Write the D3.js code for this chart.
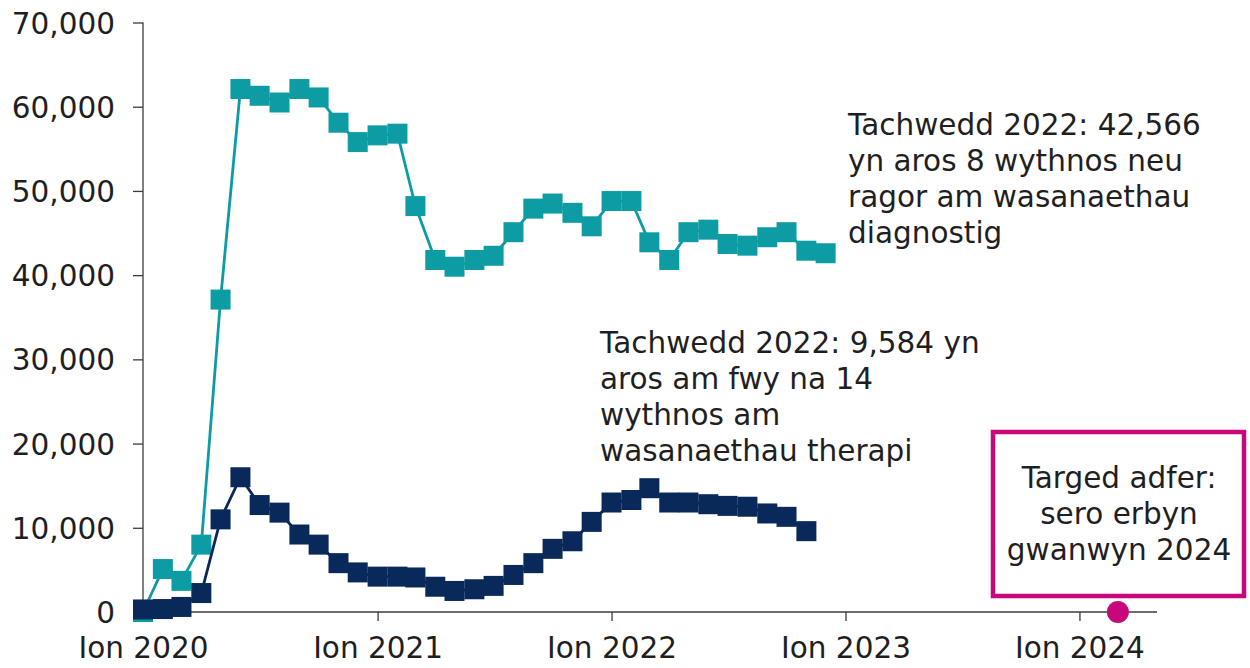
<!DOCTYPE html>
<html lang="cy">
  <head>
    <meta charset="utf-8" />
    <title>Amseroedd aros diagnostig a therapi</title>
    <style>
      body {
        margin: 0;
        background: #ffffff;
      }
      svg text {
        font-family: "DejaVu Sans", sans-serif;
        font-size: 29.5px;
        fill: #1f1f1f;
      }
    </style>
    <script src="https://d3js.org/d3.v7.min.js"></script>
  </head>
  <body>
    <div id="main"></div>
    <script>
      // months Jan 2020 - Dec 2022
      var months = [
        "2020-01", "2020-02", "2020-03", "2020-04", "2020-05", "2020-06",
        "2020-07", "2020-08", "2020-09", "2020-10", "2020-11", "2020-12",
        "2021-01", "2021-02", "2021-03", "2021-04", "2021-05", "2021-06",
        "2021-07", "2021-08", "2021-09", "2021-10", "2021-11", "2021-12",
        "2022-01", "2022-02", "2022-03", "2022-04", "2022-05", "2022-06",
        "2022-07", "2022-08", "2022-09", "2022-10", "2022-11", "2022-12",
      ];

      // waiting 8+ weeks for diagnostic services
      var diagnostig = [
        0, 5100, 3700, 8000, 37100, 62100, 61300, 60500, 62100, 61100, 58100,
        55800, 56600, 56800, 48200, 41800, 41000, 41800, 42300, 45100, 47900,
        48500, 47400, 45800, 48800, 48800, 43900, 41800, 45100, 45400, 43700,
        43500, 44500, 45100, 42900, 42600,
      ];

      // waiting 14+ weeks for therapy services
      var therapi = [
        300, 350, 600, 2250, 11000, 16000, 12700, 11800, 9200, 8000, 5800,
        4700, 4200, 4200, 4100, 3000, 2500, 2700, 3100, 4400, 5800, 7500,
        8400, 10700, 13000, 13300, 14700, 13000, 13000, 12800, 12600, 12500,
        11700, 11300, 9600,
      ];

      var yTicks = [0, 10000, 20000, 30000, 40000, 50000, 60000, 70000];
      var xTicks = ["2020-01", "2021-01", "2022-01", "2023-01", "2024-01"];
      var xTickLabels = ["Ion 2020", "Ion 2021", "Ion 2022", "Ion 2023", "Ion 2024"];

      var labelDiagnostig = [
        "Tachwedd 2022: 42,566",
        "yn aros 8 wythnos neu",
        "ragor am wasanaethau",
        "diagnostig",
      ];
      var labelTherapi = [
        "Tachwedd 2022: 9,584 yn",
        "aros am fwy na 14",
        "wythnos am",
        "wasanaethau therapi",
      ];
      var targetText = ["Targed adfer:", "sero erbyn", "gwanwyn 2024"];
      var targetMonth = "2024-03";

      var width = 1250,
        height = 668;
      var teal = "#0e9ca4",
        navy = "#08295a",
        pink = "#c8077b";

      var parse = d3.timeParse("%Y-%m");

      var svg = d3
        .select("#main")
        .append("svg")
        .attr("width", width)
        .attr("height", height);

      var x = d3
        .scaleTime()
        .domain([parse("2020-01"), parse("2024-05")])
        .range([143, 1157]);
      var y = d3.scaleLinear().domain([0, 70000]).range([612, 22.5]);

      // y axis
      var yAxis = d3
        .axisLeft(y)
        .tickValues(yTicks)
        .tickSize(10)
        .tickPadding(18)
        .tickFormat(d3.format(","));
      var gy = svg
        .append("g")
        .attr("transform", "translate(143,0)")
        .call(yAxis);
      gy.select(".domain").attr("d", "M0," + y(70000) + "V" + y(0));

      // x axis
      var xAxis = d3
        .axisBottom(x)
        .tickValues(xTicks.map(parse))
        .tickSize(9)
        .tickPadding(14)
        .tickFormat(function (d, i) {
          return xTickLabels[i];
        });
      var gx = svg
        .append("g")
        .attr("transform", "translate(0," + y(0) + ")")
        .call(xAxis);
      gx.select(".domain").attr("d", "M133,0H1157");
      gx.selectAll(".tick")
        .filter(function (d, i) {
          return i === 0;
        })
        .select("line")
        .remove();

      svg.selectAll(".domain, .tick line")
        .attr("stroke", "#3c3c3c")
        .attr("stroke-width", 1.3);
      svg.selectAll(".tick text")
        .attr("fill", "#1f1f1f")
        .style("font-size", "29.5px")
        .style("font-family", "DejaVu Sans, sans-serif");
      gy.selectAll(".tick text").attr("dy", "0.36em");
      gx.selectAll(".tick text").attr("dy", "0.78em");

      // series
      function drawSeries(values, colour) {
        var pts = values.map(function (v, i) {
          return [parse(months[i]), v];
        });
        var line = d3
          .line()
          .x(function (d) {
            return x(d[0]);
          })
          .y(function (d) {
            return y(d[1]);
          });
        svg
          .append("path")
          .datum(pts)
          .attr("d", line)
          .attr("fill", "none")
          .attr("stroke", colour)
          .attr("stroke-width", 2.8);
        svg
          .append("g")
          .selectAll("rect")
          .data(pts)
          .enter()
          .append("rect")
          .attr("x", function (d) {
            return x(d[0]) - 10;
          })
          .attr("y", function (d) {
            return y(d[1]) - 10;
          })
          .attr("width", 20)
          .attr("height", 20)
          .attr("fill", colour);
      }
      drawSeries(diagnostig, teal);
      drawSeries(therapi, navy);

      // annotations
      function block(lines, x0, y0, anchor) {
        svg
          .append("text")
          .attr("text-anchor", anchor)
          .selectAll("tspan")
          .data(lines)
          .enter()
          .append("tspan")
          .attr("x", x0)
          .attr("y", function (d, i) {
            return y0 + i * 36;
          })
          .text(function (d) {
            return d;
          });
      }
      block(labelDiagnostig, 848, 135, "start");
      block(labelTherapi, 600, 353, "start");

      // recovery target box
      svg
        .append("rect")
        .attr("x", 993)
        .attr("y", 432)
        .attr("width", 251)
        .attr("height", 164)
        .attr("fill", "#ffffff")
        .attr("stroke", pink)
        .attr("stroke-width", 4.5);
      block(targetText, 1119, 488, "middle");

      svg
        .append("circle")
        .attr("cx", x(parse(targetMonth)))
        .attr("cy", y(0))
        .attr("r", 11)
        .attr("fill", pink);
    </script>
  </body>
</html>
